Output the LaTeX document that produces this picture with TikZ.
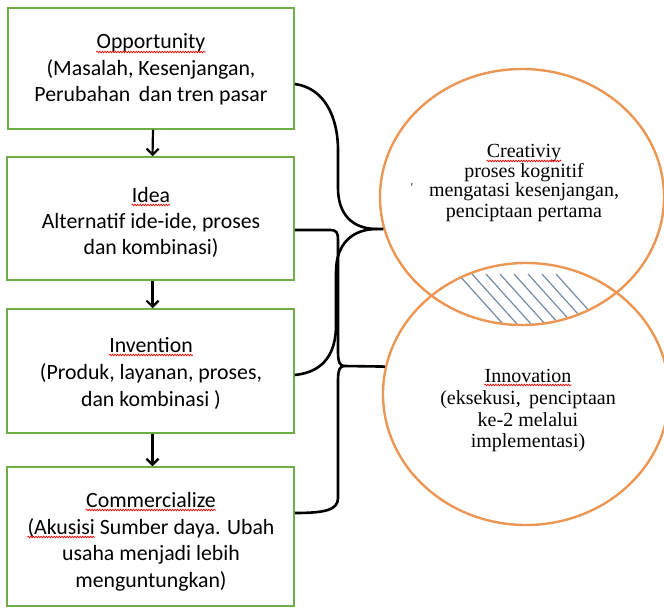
\documentclass[tikz,border=0pt]{standalone}
\usepackage{fontspec}
\setmainfont{Carlito}
\newfontfamily\circfont{Liberation Serif}
\usetikzlibrary{arrows.meta,shapes.geometric,decorations.pathmorphing}

\definecolor{boxgreen}{RGB}{112,173,71}
\definecolor{ringorange}{RGB}{236,150,84}
\definecolor{hatchblue}{RGB}{118,138,168}

\begin{document}
\begin{tikzpicture}[x=1bp,y=-1bp,
  stagebox/.style={draw=boxgreen, line width=1.5bp, fill=white, inner sep=0pt},
  stageline/.style={anchor=base, inner sep=0pt, font=\fontsize{21.8bp}{26.5bp}\selectfont},
  ring/.style={ellipse, draw=ringorange, line width=2.4bp, inner sep=0pt},
  ringline/.style={anchor=base, inner sep=0pt, font=\circfont\fontsize{20bp}{20bp}\selectfont},
  flow/.style={line width=2.2bp, -{Straight Barb[length=6bp,width=12bp]}},
  conn/.style={line width=2.6bp, black},
  hatchline/.style={hatchblue, line width=1.2bp},
  spell/.style={red, line width=0.7bp, decorate,
    decoration={snake, amplitude=0.8bp, segment length=2.6bp}}]

\useasboundingbox (0,0) rectangle (664,608);

% ---- stage boxes ----
\node[stagebox, minimum width=286bp, minimum height=121bp] (b1) at (151,68.5) {};
\node[stagebox, minimum width=287bp, minimum height=123bp] (b2) at (150.5,218.5) {};
\node[stagebox, minimum width=287bp, minimum height=124bp] (b3) at (150.5,371) {};
\node[stagebox, minimum width=287bp, minimum height=139bp] (b4) at (150.5,536.5) {};

% box texts, one node per line
\node[stageline] (t1a) at (151,49) {Opportunity};
\node[stageline] (t1b) at (151,75.5) {(Masalah, Kesenjangan,};
\node[stageline] (t1c) at (151,102) {Perubahan\, dan tren pasar};

\node[stageline] (t2a) at (151,202) {Idea};
\node[stageline] (t2b) at (151,228) {Alternatif ide-ide, proses};
\node[stageline] (t2c) at (151,254) {dan kombinasi)};

\node[stageline] (t3a) at (151,352) {Invention};
\node[stageline] (t3b) at (151,379) {(Produk, layanan, proses,};
\node[stageline] (t3c) at (151,406) {dan kombinasi )};

\node[stageline] (t4a) at (151,507) {Commercialize};
\node[stageline] (t4b) at (151,534) {(Akusisi Sumber daya. Ubah};
\node[stageline] (t4c) at (151,560.5) {usaha menjadi lebih};
\node[stageline] (t4d) at (151,587) {menguntungkan)};
\node[stageline, anchor=base west] (aku) at (t4b.base west) {\phantom{(Akusisi}};

% ---- flow arrows ----
\draw[flow] ([xshift=2bp]b1.south) -- ([xshift=2bp]b2.north);
\draw[flow] ([xshift=2bp]b2.south) -- ([xshift=2bp]b3.north);
\draw[flow] ([xshift=2bp]b3.south) -- ([xshift=2bp]b4.north);

% ---- overlap hatching ----
\begin{scope}
  \clip (522,197) ellipse [x radius=142, y radius=128];
  \clip (526,394) ellipse [x radius=143, y radius=131];
  \foreach \k in {0,...,7}
    \draw[hatchline] (458+14*\k,274) -- ++(54,60);
\end{scope}

% ---- rings ----
\node[ring, minimum width=284bp, minimum height=256bp] (cre) at (522,197) {};
\node[ring, minimum width=286bp, minimum height=262bp] (inn) at (526,394) {};

\node[ringline] (c1) at (524,158) {Creativiy};
\node[ringline] (c2) at (524,177.5) {proses kognitif};
\node[ringline] (c3) at (524,197) {mengatasi kesenjangan,};
\node[ringline] (c4) at (524,217) {penciptaan pertama};
\node[font=\circfont\fontsize{12bp}{12bp}\selectfont, inner sep=0pt] (tick) at (412,188) {'};

\node[ringline] (i1) at (528,382) {Innovation};
\node[ringline] (i2) at (528,404) {(eksekusi,\, penciptaan};
\node[ringline] (i3) at (528,426) {ke-2 melalui};
\node[ringline] (i4) at (528,447.5) {implementasi)};

% ---- spell-check squiggles ----
\foreach \w in {t1a,t2a,t3a,t4a,aku,c1,i1}
  \draw[spell] ([yshift=-3bp]\w.base west) -- ([yshift=-3bp]\w.base east);

% ---- brace connectors ----
\coordinate (tipC) at (377,229);
\coordinate (tipI) at (344,366);

\draw[conn] ([yshift=-15.5bp]b1.east) .. controls (325,88) and (338,118) .. (338,150)
  -- (338,188) .. controls (338,214) and (352,229) .. (tipC);
\draw[conn] ([yshift=-4bp]b3.east) .. controls (325,372) and (336,352) .. (336,325)
  -- (336,272) .. controls (336,244) and (352,229) .. (tipC);
\draw[conn] (tipC) -- (cre.193);

\draw[conn] ([yshift=-11.5bp]b2.east) -- (330,230) .. controls (337,230) and (338,233) .. (338,240)
  -- (338,352) .. controls (338,362) and (340,366) .. (tipI);
\draw[conn] ([yshift=23.5bp]b4.east) .. controls (325,513) and (338,510) .. (338,498)
  -- (338,380) .. controls (338,370) and (340,366) .. (tipI);
\draw[conn] (tipI) -- (inn.169);

\end{tikzpicture}
\end{document}
